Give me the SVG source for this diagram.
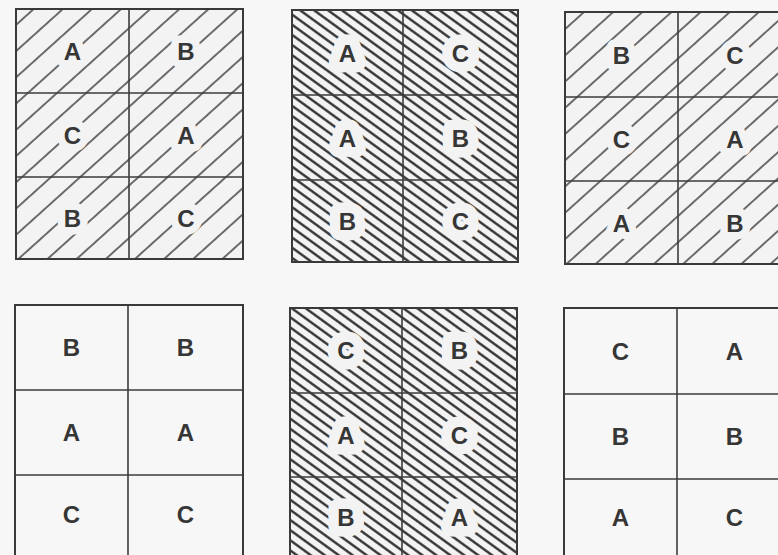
<svg xmlns="http://www.w3.org/2000/svg" width="778" height="555" viewBox="0 0 778 555">
<style>
.bg{fill:#f7f7f7}
.grid{fill:none;stroke:#3c3c3c;stroke-width:1.6}
.outer{fill:none;stroke:#3a3a3a;stroke-width:2}
.lbl{font-family:"Liberation Sans",Arial,sans-serif;font-weight:bold;font-size:24px;fill:#363636;text-anchor:middle}
.halo1{stroke:#f3f3f3;stroke-width:15;stroke-linejoin:round;paint-order:stroke}
.halo2{stroke:#f3f3f3;stroke-width:21;stroke-linejoin:round;paint-order:stroke}
</style>
<defs>
<pattern id="hatchFwd" patternUnits="userSpaceOnUse" width="40" height="19.5" patternTransform="rotate(-42)">
<rect width="40" height="19.5" fill="#f3f3f3"/>
<line x1="0" y1="9.75" x2="40" y2="9.75" stroke="#3a3a3a" stroke-width="1.4"/>
</pattern>
<pattern id="hatchBack" patternUnits="userSpaceOnUse" width="40" height="8.2" patternTransform="rotate(36)">
<rect width="40" height="8.2" fill="#f3f3f3"/>
<line x1="0" y1="4.1" x2="40" y2="4.1" stroke="#2a2a2a" stroke-width="2.4"/>
</pattern>
</defs>
<rect class="bg" x="0" y="0" width="778" height="555"/>

<g id="grid1">
<rect x="16" y="9" width="227" height="250" fill="url(#hatchFwd)"/>
<rect class="outer" x="16" y="9" width="227" height="250"/>
<path class="grid" d="M129 9V259M16 93H243M16 177H243"/>
<text class="lbl halo1" x="72.5" y="60">A</text>
<text class="lbl halo1" x="186" y="60">B</text>
<text class="lbl halo1" x="72.5" y="144">C</text>
<text class="lbl halo1" x="186" y="144">A</text>
<text class="lbl halo1" x="72.5" y="227">B</text>
<text class="lbl halo1" x="186" y="227">C</text>
</g>

<g id="grid2">
<rect x="292" y="10" width="226" height="252" fill="url(#hatchBack)"/>
<rect class="outer" x="292" y="10" width="226" height="252"/>
<path class="grid" d="M403 10V262M292 95H518M292 180H518"/>
<text class="lbl halo2" x="347.5" y="61.5">A</text>
<text class="lbl halo2" x="460.5" y="61.5">C</text>
<text class="lbl halo2" x="347.5" y="146.5">A</text>
<text class="lbl halo2" x="460.5" y="146.5">B</text>
<text class="lbl halo2" x="347.5" y="230">B</text>
<text class="lbl halo2" x="460.5" y="230">C</text>
</g>

<g id="grid3">
<rect x="565" y="12" width="227" height="252" fill="url(#hatchFwd)"/>
<rect class="outer" x="565" y="12" width="227" height="252"/>
<path class="grid" d="M678 12V264M565 97H792M565 181H792"/>
<text class="lbl halo1" x="621.5" y="63.5">B</text>
<text class="lbl halo1" x="735" y="63.5">C</text>
<text class="lbl halo1" x="621.5" y="148">C</text>
<text class="lbl halo1" x="735" y="148">A</text>
<text class="lbl halo1" x="621.5" y="231.5">A</text>
<text class="lbl halo1" x="735" y="231.5">B</text>
</g>

<g id="grid4">
<rect class="outer" x="15" y="305" width="228" height="255" fill="#f5f5f5"/>
<path class="grid" d="M128 305V560M15 390H243M15 475H243"/>
<text class="lbl" x="71.5" y="356">B</text>
<text class="lbl" x="185.5" y="356">B</text>
<text class="lbl" x="71.5" y="441">A</text>
<text class="lbl" x="185.5" y="441">A</text>
<text class="lbl" x="71.5" y="523">C</text>
<text class="lbl" x="185.5" y="523">C</text>
</g>

<g id="grid5">
<rect x="290" y="308" width="227" height="254" fill="url(#hatchBack)"/>
<rect class="outer" x="290" y="308" width="227" height="254"/>
<path class="grid" d="M402 308V562M290 393H517M290 477H517"/>
<text class="lbl halo2" x="346" y="359">C</text>
<text class="lbl halo2" x="459.5" y="359">B</text>
<text class="lbl halo2" x="346" y="444">A</text>
<text class="lbl halo2" x="459.5" y="444">C</text>
<text class="lbl halo2" x="346" y="526">B</text>
<text class="lbl halo2" x="459.5" y="526">A</text>
</g>

<g id="grid6">
<rect class="outer" x="564" y="308" width="228" height="255" fill="#f5f5f5"/>
<path class="grid" d="M677 308V563M564 394H792M564 479H792"/>
<text class="lbl" x="620.5" y="359.5">C</text>
<text class="lbl" x="734.5" y="359.5">A</text>
<text class="lbl" x="620.5" y="445">B</text>
<text class="lbl" x="734.5" y="445">B</text>
<text class="lbl" x="620.5" y="525.5">A</text>
<text class="lbl" x="734.5" y="525.5">C</text>
</g>
</svg>
